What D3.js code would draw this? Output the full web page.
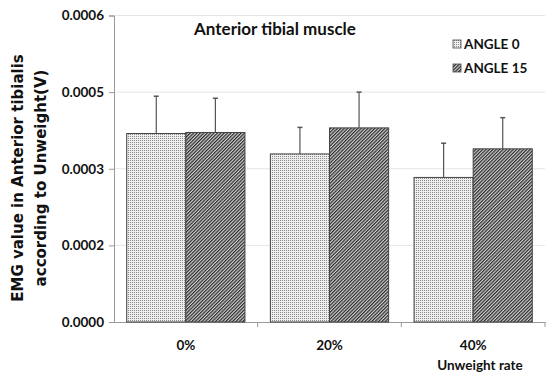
<!DOCTYPE html>
<html><head><meta charset="utf-8">
<script src="https://cdn.jsdelivr.net/npm/d3@7"></script>
<style>body{margin:0;background:#fff}svg{display:block}</style>
</head><body>
<script>
const categories = ["0%", "20%", "40%"];
const seriesNames = ["ANGLE 0", "ANGLE 15"];
const angle0 = [0.000369, 0.000329, 0.000283];
const angle15 = [0.000371, 0.000380, 0.000339];
const angle0Err = [0.000073, 0.000052, 0.000067];
const angle15Err = [0.000067, 0.000070, 0.000061];
const yTicks = [0, 0.00015, 0.0003, 0.00045, 0.0006];
const yTickLabels = ["0.0000", "0.0002", "0.0003", "0.0005", "0.0006"];

const W = 547, H = 376;
const m = {l: 114, r: 545, t: 15.5, b: 322};
const svg = d3.select("body").append("svg").attr("width", W).attr("height", H);
const defs = svg.append("defs");
const dots = defs.append("pattern").attr("id","dots").attr("patternUnits","userSpaceOnUse").attr("width",2).attr("height",2);
dots.append("rect").attr("width",2).attr("height",2).attr("fill","#eeeeee");
dots.append("rect").attr("width",1).attr("height",1).attr("fill","#8a8a8a");
const hatch = defs.append("pattern").attr("id","hatch").attr("patternUnits","userSpaceOnUse").attr("width",2.4).attr("height",2.4).attr("patternTransform","rotate(45)");
hatch.append("rect").attr("width",2.4).attr("height",2.4).attr("fill","#d0d0d0");
hatch.append("rect").attr("width",1.2).attr("height",2.4).attr("fill","#2a2a2a");
const fills = ["url(#dots)", "url(#hatch)"];

const x = d3.scaleBand().domain(categories).range([m.l, m.r]).paddingInner(0).paddingOuter(0);
const x1 = d3.scaleBand().domain(seriesNames).range([0, x.bandwidth()]).paddingInner(0).paddingOuter(0.215);
const y = d3.scaleLinear().domain([0, 0.0006]).range([m.b, m.t]);

const cat = "Lato,'DejaVu Sans Condensed',sans-serif";

// gridlines
svg.append("g").selectAll("line").data(yTicks.slice(1)).join("line")
  .attr("x1", m.l).attr("x2", m.r).attr("y1", d=>y(d)).attr("y2", d=>y(d))
  .attr("stroke","#e6e6e6").attr("stroke-width",1);

// y axis
const ya = svg.append("g").attr("transform",`translate(${m.l},0)`)
  .call(d3.axisLeft(y).tickValues(yTicks).tickFormat((d,i)=>yTickLabels[i]).tickSize(5).tickPadding(5));
ya.select(".domain").attr("stroke","#999");
ya.selectAll(".tick line").attr("stroke","#999");
ya.selectAll("text").attr("font-family",cat).attr("font-weight","bold").attr("font-size",13.5).attr("fill","#111");

// x axis
const xa = svg.append("g").attr("transform",`translate(0,${m.b})`)
  .call(d3.axisBottom(x).tickSize(0).tickPadding(18));
xa.select(".domain").attr("stroke","#999");
xa.selectAll("text").attr("font-family",cat).attr("font-weight","bold").attr("font-size",13.5).attr("fill","#111");
// category separator ticks
svg.append("g").selectAll("line").data(categories).join("line")
  .attr("x1", d=>x(d)+x.bandwidth()).attr("x2", d=>x(d)+x.bandwidth())
  .attr("y1", m.b).attr("y2", m.b+5).attr("stroke","#999");

const series = [angle0, angle15];
const errs = [angle0Err, angle15Err];
series.forEach((vals, si) => {
  const g = svg.append("g");
  g.selectAll("rect").data(vals).join("rect")
    .attr("x", (d,i)=>x(categories[i]) + x1(seriesNames[si]))
    .attr("width", x1.bandwidth())
    .attr("y", d=>y(d)).attr("height", d=>m.b - y(d))
    .attr("fill", fills[si]).attr("stroke","#444").attr("stroke-width",1);
  const eg = svg.append("g").attr("stroke","#555").attr("stroke-width",1.2);
  vals.forEach((d,i)=>{
    const cx = x(categories[i]) + x1(seriesNames[si]) + x1.bandwidth()/2;
    eg.append("line").attr("x1",cx).attr("x2",cx).attr("y1",y(d)).attr("y2",y(d+errs[si][i]));
    eg.append("line").attr("x1",cx-2.5).attr("x2",cx+2.5).attr("y1",y(d+errs[si][i])).attr("y2",y(d+errs[si][i])).attr("stroke-width",1.5);
  });
});

// title
svg.append("text").attr("x",275).attr("y",35).attr("text-anchor","middle")
  .attr("font-family",cat).attr("font-weight","bold").attr("font-size",17).attr("fill","#111")
  .text("Anterior tibial muscle");

// legend
seriesNames.forEach((n,i)=>{
  const ly = 44 + i*24;
  svg.append("rect").attr("x",453).attr("y",ly-4).attr("width",8).attr("height",8)
    .attr("fill",fills[i]).attr("stroke","#444").attr("stroke-width",0.8);
  svg.append("text").attr("x",464).attr("y",ly+5).attr("font-family",cat).attr("font-weight","bold")
    .attr("font-size",13.5).attr("fill","#111").text(n);
});

// axis titles
svg.append("text").attr("x",480).attr("y",370).attr("text-anchor","middle")
  .attr("font-family",cat).attr("font-weight","bold").attr("font-size",13.5).attr("fill","#111")
  .text("Unweight rate");
const yt = svg.append("text").attr("transform","translate(0,178) rotate(-90)").attr("text-anchor","middle")
  .attr("font-family","'DejaVu Sans',Verdana,sans-serif").attr("font-weight","bold").attr("font-size",15).attr("fill","#111");
yt.append("tspan").attr("x",0).attr("y",23).text("EMG value in Anterior tibialis");
yt.append("tspan").attr("x",0).attr("y",46).text("according to Unweight(V)");
</script>
</body></html>
